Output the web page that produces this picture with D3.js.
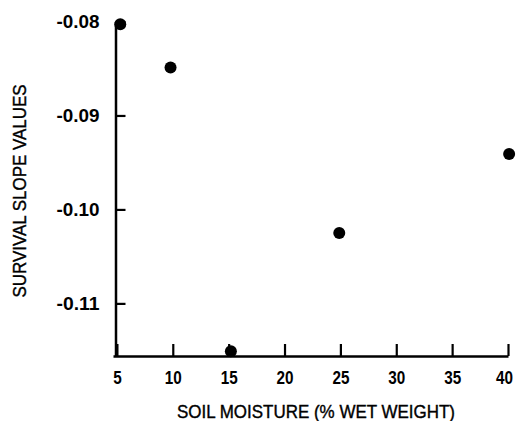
<!DOCTYPE html>
<html>
<head>
<meta charset="utf-8">
<script src="https://cdn.jsdelivr.net/npm/d3@7"></script>
<style>
  html, body { margin: 0; padding: 0; background: #fff; }
  svg { display: block; }
  .tick text { font-family: "Liberation Sans", Arial, sans-serif; font-weight: bold; fill: #000; }
  .axis-title { font-family: "Liberation Sans", Arial, sans-serif; fill: #000; stroke: #000; stroke-width: 0.4px; }
</style>
</head>
<body>
<svg id="chart" width="516" height="421"></svg>
<script>
// Survival slope vs. soil moisture
const moisture = [5.3, 9.8, 15.2, 24.9, 40.1];
const slopes = [-0.0803, -0.0849, -0.1151, -0.1025, -0.0941];
const xTicks = [5, 10, 15, 20, 25, 30, 35, 40];
const yTicks = [-0.08, -0.09, -0.10, -0.11];
const yTickLabels = ["-0.08", "-0.09", "-0.10", "-0.11"];

const svg = d3.select("#chart");

const x = d3.scaleLinear().domain([4.65, 40]).range([113, 508]);
const y = d3.scaleLinear().domain([-0.1156, -0.08]).range([356, 21.5]);

const axisX = d3.axisBottom(x)
  .tickValues(xTicks)
  .tickSizeInner(-12)
  .tickSizeOuter(0)
  .tickPadding(15)
  .tickFormat(d3.format("d"));

const gx = svg.append("g")
  .attr("transform", `translate(0,${y.range()[0]})`)
  .call(axisX);

const axisY = d3.axisLeft(y)
  .tickValues(yTicks)
  .tickSizeInner(-10)
  .tickSizeOuter(0)
  .tickPadding(16)
  .tickFormat((d, i) => yTickLabels[i]);

const gy = svg.append("g")
  .attr("transform", `translate(115.5,0)`)
  .call(axisY);

[gx, gy].forEach(g => {
  g.selectAll(".domain").attr("stroke", "#000").attr("stroke-width", 2.5);
  g.selectAll(".tick line").attr("stroke", "#000").attr("stroke-width", 2.2);
  g.selectAll(".tick text").style("font-size", "18px").attr("lengthAdjust", "spacingAndGlyphs");
});
// condensed lettering, as in the printed figure
gx.selectAll(".tick text")
  .style("font-size", "19px")
  .attr("textLength", function () { return this.textContent.length * 8.5; });
// keep the last label inside the right edge
gx.selectAll(".tick text").filter((d) => d === 40).attr("x", -4);
gy.selectAll(".tick text").attr("dy", "0.35em").attr("textLength", 43);

svg.append("g")
  .selectAll("circle")
  .data(moisture)
  .join("circle")
  .attr("cx", (d) => x(d))
  .attr("cy", (d, i) => y(slopes[i]))
  .attr("r", 6)
  .attr("fill", "#000");

svg.append("text")
  .attr("class", "axis-title")
  .attr("x", 316)
  .attr("y", 418)
  .attr("text-anchor", "middle")
  .attr("textLength", 278)
  .attr("lengthAdjust", "spacingAndGlyphs")
  .style("font-size", "19px")
  .text("SOIL MOISTURE (% WET WEIGHT)");

svg.append("text")
  .attr("class", "axis-title")
  .attr("transform", "translate(26,191) rotate(-90)")
  .attr("text-anchor", "middle")
  .attr("textLength", 213)
  .attr("lengthAdjust", "spacingAndGlyphs")
  .style("font-size", "19px")
  .text("SURVIVAL SLOPE VALUES");
</script>
</body>
</html>
